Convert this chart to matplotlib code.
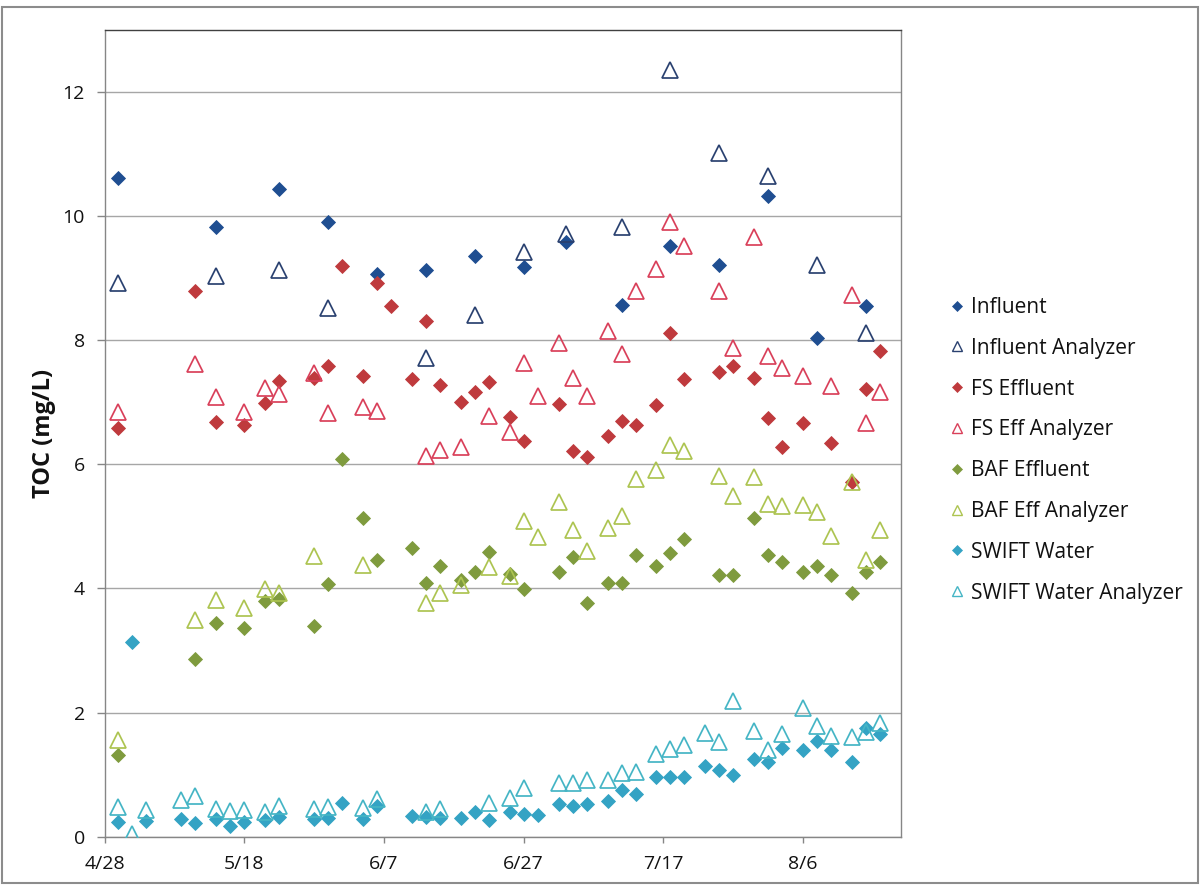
import matplotlib
matplotlib.use("Agg")
import matplotlib.pyplot as plt
from matplotlib.lines import Line2D
from matplotlib.patches import Rectangle
from datetime import datetime

YEAR = 2016

# ---------------- data ----------------
influent_dates = ["4/30", "5/14", "5/23", "5/30", "6/6", "6/13", "6/20", "6/27", "7/3",
                  "7/11", "7/18", "7/25", "8/1", "8/8", "8/15"]
influent_vals = [10.62, 9.83, 10.43, 9.91, 9.07, 9.14, 9.36, 9.18, 9.58,
                 8.57, 9.52, 9.21, 10.32, 8.03, 8.56]

influent_an_dates = ["4/30", "5/14", "5/23", "5/30", "6/13", "6/20", "6/27", "7/3",
                     "7/11", "7/18", "7/25", "8/1", "8/8", "8/15"]
influent_an_vals = [8.92, 9.03, 9.13, 8.52, 7.71, 8.41, 9.43, 9.72,
                    9.83, 12.35, 11.01, 10.64, 9.22, 8.12]

fs_dates = ["4/30", "5/11", "5/14", "5/18", "5/21", "5/23", "5/28", "5/30", "6/1", "6/4",
            "6/6", "6/8", "6/11", "6/13", "6/15", "6/18", "6/20", "6/22", "6/25", "6/27",
            "7/2", "7/4", "7/6", "7/9", "7/11", "7/13", "7/16", "7/18", "7/20", "7/25",
            "7/27", "7/30", "8/1", "8/3", "8/6", "8/10", "8/13", "8/15", "8/17"]
fs_vals = [6.58, 8.79, 6.69, 6.63, 6.99, 7.34, 7.40, 7.58, 9.20, 7.42,
           8.92, 8.56, 7.38, 8.31, 7.28, 7.01, 7.17, 7.32, 6.77, 6.38,
           6.98, 6.21, 6.12, 6.45, 6.70, 6.63, 6.95, 8.11, 7.38, 7.49,
           7.58, 7.40, 6.75, 6.28, 6.66, 6.35, 5.71, 7.22, 7.83]

fs_an_dates = ["4/30", "5/11", "5/14", "5/18", "5/21", "5/23", "5/28", "5/30", "6/4", "6/6",
               "6/13", "6/15", "6/18", "6/22", "6/25", "6/27", "6/29", "7/2", "7/4", "7/6",
               "7/9", "7/11", "7/13", "7/16", "7/18", "7/20", "7/25", "7/27", "7/30", "8/1",
               "8/3", "8/6", "8/10", "8/13", "8/15", "8/17"]
fs_an_vals = [6.85, 7.62, 7.09, 6.85, 7.23, 7.13, 7.48, 6.83, 6.92, 6.86,
              6.13, 6.23, 6.28, 6.78, 6.52, 7.63, 7.10, 7.96, 7.39, 7.10,
              8.15, 7.78, 8.80, 9.15, 9.90, 9.52, 8.80, 7.87, 9.67, 7.74,
              7.55, 7.43, 7.26, 8.73, 6.66, 7.17]

baf_dates = ["4/30", "5/11", "5/14", "5/18", "5/21", "5/23", "5/28", "5/30", "6/1", "6/4",
             "6/6", "6/11", "6/13", "6/15", "6/18", "6/20", "6/22", "6/25", "6/27", "7/2",
             "7/4", "7/6", "7/9", "7/11", "7/13", "7/16", "7/18", "7/20", "7/25", "7/27",
             "7/30", "8/1", "8/3", "8/6", "8/8", "8/10", "8/13", "8/15", "8/17"]
baf_vals = [1.32, 2.86, 3.45, 3.37, 3.80, 3.83, 3.40, 4.08, 6.08, 5.14,
            4.46, 4.65, 4.09, 4.37, 4.14, 4.27, 4.58, 4.23, 3.99, 4.26,
            4.50, 3.76, 4.09, 4.09, 4.54, 4.36, 4.57, 4.80, 4.22, 4.22,
            5.14, 4.54, 4.42, 4.26, 4.36, 4.22, 3.92, 4.27, 4.42]

baf_an_dates = ["4/30", "5/11", "5/14", "5/18", "5/21", "5/23", "5/28", "6/4", "6/13", "6/15",
                "6/18", "6/22", "6/25", "6/27", "6/29", "7/2", "7/4", "7/6", "7/9", "7/11",
                "7/13", "7/16", "7/18", "7/20", "7/25", "7/27", "7/30", "8/1", "8/3", "8/6",
                "8/8", "8/10", "8/13", "8/15", "8/17"]
baf_an_vals = [1.56, 3.49, 3.81, 3.68, 3.99, 3.92, 4.53, 4.38, 3.76, 3.92,
               4.06, 4.35, 4.20, 5.08, 4.83, 5.40, 4.94, 4.61, 4.97, 5.17,
               5.76, 5.91, 6.31, 6.22, 5.81, 5.49, 5.79, 5.36, 5.33, 5.35,
               5.23, 4.85, 5.72, 4.46, 4.94]

swift_dates = ["4/30", "5/2", "5/4", "5/9", "5/11", "5/14", "5/16", "5/18", "5/21", "5/23",
               "5/28", "5/30", "6/1", "6/4", "6/6", "6/11", "6/13", "6/15", "6/18", "6/20",
               "6/22", "6/25", "6/27", "6/29", "7/2", "7/4", "7/6", "7/9", "7/11", "7/13",
               "7/16", "7/18", "7/20", "7/23", "7/25", "7/27", "7/30", "8/1", "8/3", "8/6",
               "8/8", "8/10", "8/13", "8/15", "8/17"]
swift_vals = [0.24, 3.14, 0.25, 0.28, 0.22, 0.28, 0.18, 0.23, 0.27, 0.31,
              0.28, 0.30, 0.55, 0.28, 0.49, 0.33, 0.32, 0.30, 0.30, 0.40,
              0.27, 0.40, 0.37, 0.35, 0.52, 0.50, 0.53, 0.58, 0.75, 0.69,
              0.97, 0.97, 0.96, 1.14, 1.07, 0.99, 1.26, 1.20, 1.43, 1.39,
              1.55, 1.39, 1.20, 1.75, 1.66]

swift_an_dates = ["4/30", "5/2", "5/4", "5/9", "5/11", "5/14", "5/16", "5/18", "5/21", "5/23",
                  "5/28", "5/30", "6/4", "6/6", "6/13", "6/15", "6/22", "6/25", "6/27", "7/2",
                  "7/4", "7/6", "7/9", "7/11", "7/13", "7/16", "7/18", "7/20", "7/23", "7/25",
                  "7/27", "7/30", "8/1", "8/3", "8/6", "8/8", "8/10", "8/13", "8/15", "8/17"]
swift_an_vals = [0.48, 0.04, 0.43, 0.59, 0.65, 0.45, 0.42, 0.43, 0.40, 0.50,
                 0.45, 0.48, 0.47, 0.60, 0.39, 0.44, 0.55, 0.63, 0.78, 0.87,
                 0.87, 0.91, 0.91, 1.02, 1.05, 1.33, 1.42, 1.47, 1.67, 1.52,
                 2.18, 1.71, 1.40, 1.66, 2.07, 1.78, 1.63, 1.60, 1.68, 1.83]

x_tick_labels = ["4/28", "5/18", "6/7", "6/27", "7/17", "8/6"]
x_min_label, x_max_label = "4/28", "8/20"
y_ticks = [0, 2, 4, 6, 8, 10, 12]
y_max = 13

# ---------------- helpers ----------------
def to_dt(s):
    m, d = s.split("/")
    return datetime(YEAR, int(m), int(d))

def dts(lst):
    return [to_dt(s) for s in lst]

plt.rcParams["font.family"] = ["Open Sans", "DejaVu Sans"]

fig = plt.figure(figsize=(12, 8.85), dpi=100)
ax = fig.add_axes([104.5 / 1200, (885 - 836.7) / 885, (901 - 104.5) / 1200, (836.7 - 30) / 885])

# series: (label, dates, values, marker, face, edge)
series = [
    ("Influent", influent_dates, influent_vals, "D", "#1F4E91", "#1F4E91"),
    ("Influent Analyzer", influent_an_dates, influent_an_vals, "^", "none", "#2A4170"),
    ("FS Effluent", fs_dates, fs_vals, "D", "#BF3A3D", "#BF3A3D"),
    ("FS Eff Analyzer", fs_an_dates, fs_an_vals, "^", "none", "#D9405A"),
    ("BAF Effluent", baf_dates, baf_vals, "D", "#7F9B3E", "#7F9B3E"),
    ("BAF Eff Analyzer", baf_an_dates, baf_an_vals, "^", "none", "#ADC451"),
    ("SWIFT Water", swift_dates, swift_vals, "D", "#34A3C4", "#34A3C4"),
    ("SWIFT Water Analyzer", swift_an_dates, swift_an_vals, "^", "none", "#45B5C5"),
]

handles = []
for i, (label, dl, vl, mk, fc, ec) in enumerate(series):
    if mk == "D":
        ax.plot(dts(dl), vl, linestyle="none", marker="D", markersize=7.2,
                markerfacecolor=fc, markeredgecolor=ec, markeredgewidth=0.6, zorder=3 + i)
        h = Line2D([], [], linestyle="none", marker="D", markersize=5.5,
                   markerfacecolor=fc, markeredgecolor=ec, markeredgewidth=0.5)
    else:
        ax.plot(dts(dl), vl, linestyle="none", marker="^", markersize=11,
                markerfacecolor="none", markeredgecolor=ec, markeredgewidth=1.25, zorder=3 + i)
        h = Line2D([], [], linestyle="none", marker="^", markersize=7.5,
                   markerfacecolor="none", markeredgecolor=ec, markeredgewidth=1.0)
    handles.append((h, label))

# axes limits / ticks
ax.set_xlim(to_dt(x_min_label), to_dt(x_max_label))
ax.set_ylim(0, y_max)
ax.set_xticks(dts(x_tick_labels))
ax.set_xticklabels(x_tick_labels)
ax.set_yticks(y_ticks)
ax.set_yticklabels([str(v) for v in y_ticks])

ax.grid(axis="y", color="#A6A6A6", linewidth=1.0)
ax.set_axisbelow(True)

for side in ["left", "bottom", "right"]:
    ax.spines[side].set_color("#868686")
    ax.spines[side].set_linewidth(1.0)
ax.spines["top"].set_color("#404040")
ax.spines["top"].set_linewidth(1.0)

ax.tick_params(axis="y", length=6, width=1, color="#868686", pad=8, labelsize=14, labelcolor="#111111")
ax.tick_params(axis="x", length=4, width=1, color="#868686", pad=9, labelsize=14, labelcolor="#111111")

ax.set_ylabel("TOC (mg/L)", fontsize=17, fontweight="bold", labelpad=5, color="#111111")

leg = ax.legend([h for h, _ in handles], [l for _, l in handles],
                loc="upper left", bbox_to_anchor=(950 / 1200, (885 - 297) / 885),
                bbox_transform=fig.transFigure, frameon=False, fontsize=15,
                handlelength=0.7, handletextpad=0.3, labelspacing=0.95,
                borderaxespad=0, borderpad=0)
for t in leg.get_texts():
    t.set_color("#111111")

# outer chart border
fig.patches.append(Rectangle((2 / 1200, 2 / 885), 1196 / 1200, 876 / 885,
                             transform=fig.transFigure, fill=False,
                             edgecolor="#8C8C8C", linewidth=1.5))

fig.savefig("out.png", dpi=100)
